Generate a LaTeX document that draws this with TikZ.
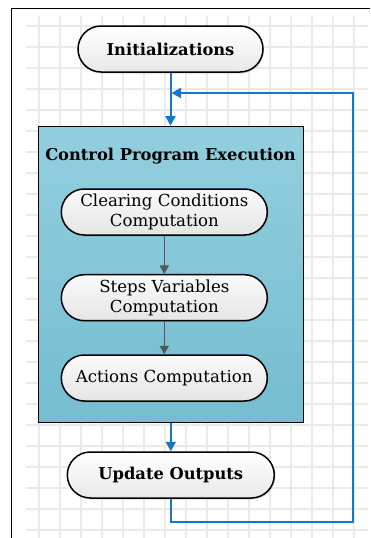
\documentclass[tikz,border=0pt]{standalone}
\usepackage{fontspec}
\setmainfont{DejaVu Serif}
\usetikzlibrary{shapes.misc,arrows.meta,shadows}
\definecolor{flowblue}{RGB}{22,118,200}
\definecolor{gridgray}{RGB}{234,234,234}
\definecolor{boxtop}{RGB}{146,207,222}
\definecolor{boxbot}{RGB}{117,189,208}
\definecolor{innerarrow}{RGB}{85,85,85}
\tikzset{
  x=1pt, y=-1pt,
  pill/.style={rounded rectangle, draw=black, line width=1.5pt,
    top color=white, bottom color=gray!18, minimum height=46pt,
    align=center, inner sep=2pt,
    drop shadow={shadow xshift=1pt, shadow yshift=-1.5pt, opacity=0.25}},
  outerpill/.style={pill, font=\fontsize{16.3}{18}\selectfont\bfseries},
  innerpill/.style={pill, minimum width=210pt, top color=gray!4, bottom color=gray!20,
    font=\fontsize{16.6}{20}\selectfont},
  container/.style={draw=black, line width=1.6pt, top color=boxtop, bottom color=boxbot,
    minimum width=265pt, minimum height=296pt, inner sep=0pt},
  blueflow/.style={draw=flowblue, line width=2pt, -{Triangle[length=9.5pt,width=10pt]}},
  grayflow/.style={draw=innerarrow, line width=1.6pt, -{Triangle[length=8.5pt,width=9pt]}},
  gridline/.style={draw=gridgray, line width=1.1pt},
  frameline/.style={draw=black, line width=1.4pt}
}
\begin{document}
\begin{tikzpicture}
\useasboundingbox (0,0) rectangle (370,538);
\fill[white] (0,0) rectangle (370,538);
% grid
\foreach \k in {0,...,24} { \draw[gridline] (26,26+21*\k) -- (368,26+21*\k); }
\foreach \k in {0,...,15} { \draw[gridline] (39+21*\k,16) -- (39+21*\k,538); }
% frame
\draw[frameline] (11.7,538) -- (11.7,8.3) -- (370,8.3);
% container
\node[container] (cpe) at (170.8,274.4) {};
\node[font=\fontsize{16.3}{18}\selectfont\bfseries] (title) at (170.5,156.5) {Control Program Execution};
% outer pills
\node[outerpill, minimum width=189pt] (init) at (170.5,49) {Initializations};
\node[outerpill, minimum width=211pt] (uo) at (170.8,475) {Update Outputs};
% inner pills
\node[innerpill] (ccc) at (164.3,212) {Clearing Conditions\\Computation};
\node[innerpill] (svc) at (164.3,297.7) {Steps Variables\\Computation};
\node[innerpill] (ac) at (164.3,378) {Actions Computation};
% inner arrows
\draw[grayflow] (ccc.south) -- (svc.north);
\draw[grayflow] (svc.south) -- (ac.north);
% blue arrows
\draw[blueflow] (init.south) -- (init.south |- cpe.north);
\draw[blueflow] (cpe.south -| uo.north) -- (uo.north);
\coordinate (fbR) at (353,93);
\coordinate (fbIn) at (171.5,93);
\draw[blueflow] (uo.south) -- ++(0,23) -| (fbR) -- (fbIn);
\end{tikzpicture}
\end{document}
